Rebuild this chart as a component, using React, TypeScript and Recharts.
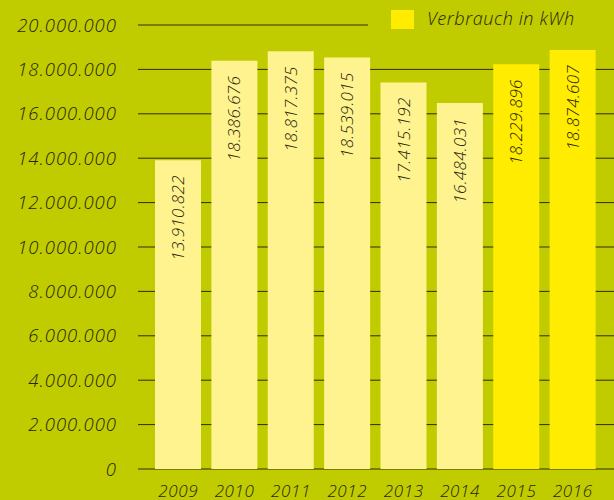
import React from "react";
import { BarChart, Bar, XAxis, YAxis, CartesianGrid, Cell, LabelList } from "recharts";

const years = ["2009", "2010", "2011", "2012", "2013", "2014", "2015", "2016"];
const consumption = [13910822, 18386676, 18817375, 18539015, 17415192, 16484031, 18229896, 18874607];
const highlighted = [false, false, false, false, false, false, true, true];
const yTicks = [0, 2000000, 4000000, 6000000, 8000000, 10000000, 12000000, 14000000, 16000000, 18000000, 20000000];
const legendLabel = "Verbrauch in kWh";

const BG = "#c0cc00";
const LIGHT = "#fff38f";
const BRIGHT = "#ffec00";
const TEXT = "#25250c";
const GRID = "#2e2e00";
const FONT = "'Open Sans', sans-serif";
const WEIGHT = 300;

const fmt = (v: number) => v.toString().replace(/\B(?=(\d{3})+(?!\d))/g, ".");

const data = years.map((y, i) => ({ year: y, value: consumption[i], hi: highlighted[i] }));

const YTick = (props: any) => {
  const { y, payload } = props;
  return (
    <text x={117} y={y} dy="0.36em" textAnchor="end" fill={TEXT} fontStyle="italic" fontWeight={WEIGHT} fontSize={18.5} letterSpacing={1} fontFamily={FONT}>
      {fmt(payload.value)}
    </text>
  );
};

const XTick = (props: any) => {
  const { x, payload } = props;
  return (
    <text x={x} y={491} dy="0.36em" textAnchor="middle" fill={TEXT} fontStyle="italic" fontWeight={WEIGHT} fontSize={17} letterSpacing={0.6} fontFamily={FONT}>
      {payload.value}
    </text>
  );
};

const BarLabel = (props: any) => {
  const { x, y, width, value } = props;
  const cx = x + width / 2;
  const ty = y + 15;
  return (
    <text
      x={cx}
      y={ty}
      dy="0.36em"
      textAnchor="end"
      transform={`rotate(-90, ${cx}, ${ty})`}
      fill={TEXT}
      fontStyle="italic"
      fontWeight={WEIGHT}
      fontSize={17}
      letterSpacing={0.3}
      fontFamily={FONT}
    >
      {fmt(value)}
    </text>
  );
};

export default function App() {
  return (
    <div style={{ position: "fixed", left: 0, top: 0, width: 614, height: 500, background: BG }}>
      <BarChart width={614} height={500} data={data} margin={{ top: 25, right: 0, bottom: 1, left: 0 }} barSize={46}>
        <CartesianGrid horizontal vertical={false} stroke={GRID} strokeWidth={1} />
        <XAxis
          dataKey="year"
          height={30}
          axisLine={false}
          tickLine={false}
          tick={<XTick />}
          padding={{ left: 12, right: 13 }}
          interval={0}
        />
        <YAxis
          width={138}
          domain={[0, 20000000]}
          ticks={yTicks}
          axisLine={false}
          tickLine={false}
          tick={<YTick />}
          interval={0}
        />
        <Bar dataKey="value" isAnimationActive={false}>
          {data.map((d, i) => (
            <Cell key={i} fill={d.hi ? BRIGHT : LIGHT} />
          ))}
          <LabelList dataKey="value" content={<BarLabel />} />
        </Bar>
      </BarChart>
      <div style={{ position: "absolute", left: 368, top: 0, width: 246, height: 40, background: BG }}>
        <div style={{ position: "absolute", left: 23, top: 10, width: 23, height: 19, background: BRIGHT }} />
        <div
          style={{
            position: "absolute",
            left: 59,
            top: 6,
            fontFamily: FONT,
            fontStyle: "italic",
            fontWeight: WEIGHT,
            fontSize: 18,
            letterSpacing: 0.6,
            color: TEXT,
            lineHeight: "24px",
            whiteSpace: "nowrap",
          }}
        >
          {legendLabel}
        </div>
      </div>
    </div>
  );
}
